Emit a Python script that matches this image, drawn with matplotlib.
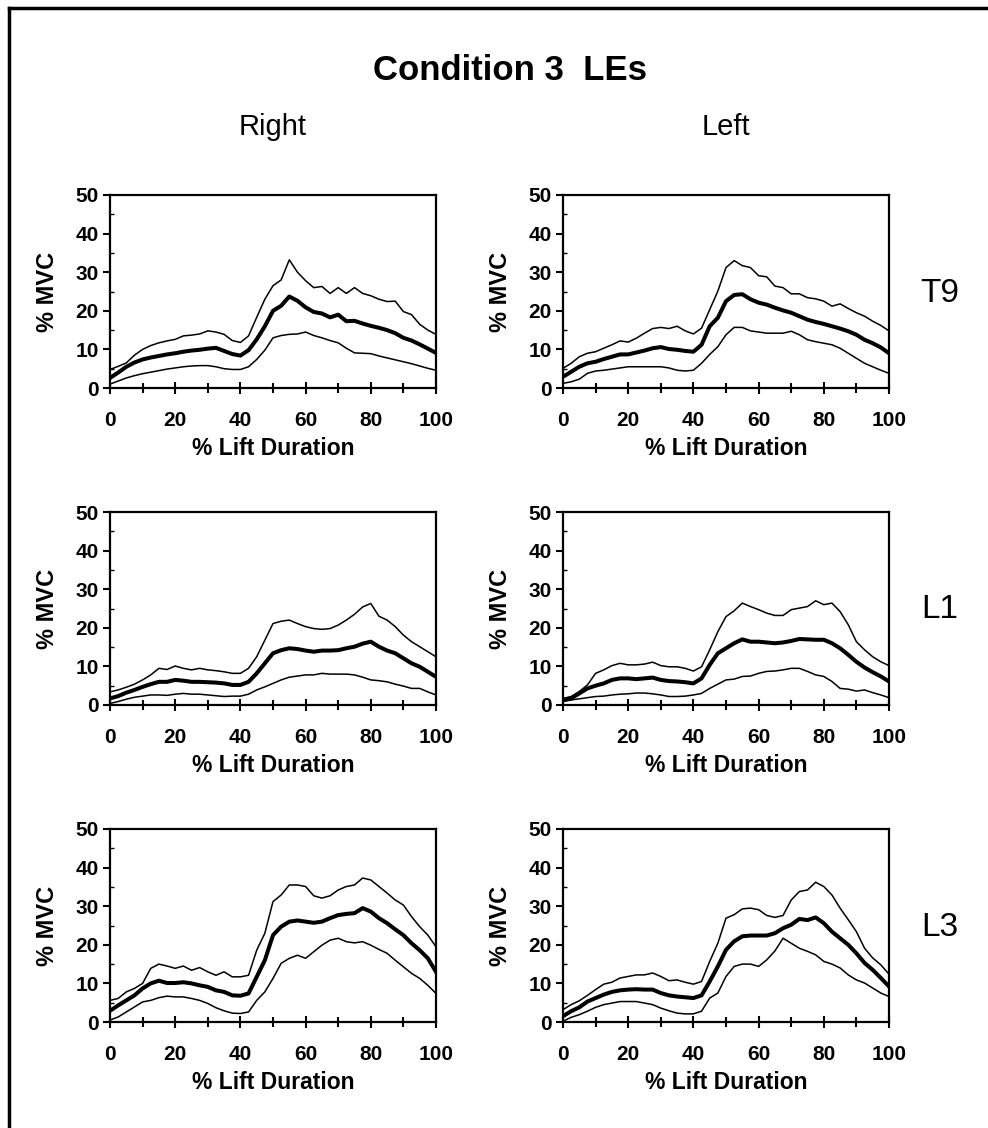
import matplotlib
matplotlib.use('Agg')
import matplotlib.pyplot as plt
from matplotlib.lines import Line2D
from matplotlib.ticker import MultipleLocator

plt.rcParams['font.family'] = ['Liberation Sans', 'DejaVu Sans']

# % lift duration sample points
lift = [0, 2.5, 5, 7.5, 10, 12.5, 15, 17.5, 20, 22.5, 25, 27.5, 30, 32.5, 35, 37.5,
        40, 42.5, 45, 47.5, 50, 52.5, 55, 57.5, 60, 62.5, 65, 67.5, 70, 72.5, 75, 77.5,
        80, 82.5, 85, 87.5, 90, 92.5, 95, 97.5, 100]

# Right T9
r_t9_hi = [4.8, 5.6, 6.5, 8.5, 10.0, 11.0, 11.7, 12.2, 12.6, 13.5, 13.7, 14.0, 14.8, 14.5, 13.9, 12.3,
           11.8, 13.5, 18.3, 23.0, 26.5, 28.0, 33.2, 30.0, 27.8, 26.0, 26.3, 24.5, 26.0, 24.5, 26.0, 24.5,
           23.9, 23.0, 22.4, 22.5, 19.8, 19.0, 16.5, 15.0, 13.9]
r_t9_mean = [2.6, 4.0, 5.5, 6.6, 7.4, 7.9, 8.3, 8.7, 9.0, 9.4, 9.7, 9.9, 10.2, 10.4, 9.6, 8.8,
             8.4, 9.8, 12.6, 16.0, 20.0, 21.3, 23.7, 22.6, 20.9, 19.7, 19.3, 18.3, 19.0, 17.3, 17.4, 16.7,
             16.1, 15.6, 15.0, 14.2, 13.0, 12.3, 11.3, 10.2, 9.1]
r_t9_lo = [1.0, 1.8, 2.6, 3.2, 3.7, 4.1, 4.5, 4.9, 5.2, 5.5, 5.7, 5.8, 5.8, 5.5, 5.0, 4.8,
           4.8, 5.5, 7.4, 9.8, 13.0, 13.6, 13.9, 14.0, 14.5, 13.6, 13.0, 12.3, 11.7, 10.3, 9.1, 9.0,
           8.9, 8.3, 7.8, 7.3, 6.8, 6.3, 5.7, 5.1, 4.6]

# Left T9
l_t9_hi = [5.1, 6.4, 8.1, 9.0, 9.4, 10.3, 11.2, 12.2, 11.9, 12.9, 14.2, 15.4, 15.7, 15.4, 16.0, 14.8,
           14.0, 15.5, 20.3, 25.1, 31.2, 33.0, 31.7, 31.2, 29.1, 28.8, 26.4, 26.0, 24.4, 24.4, 23.4, 23.1,
           22.5, 21.2, 21.8, 20.6, 19.5, 18.6, 17.3, 16.2, 14.8]
l_t9_mean = [2.9, 4.2, 5.5, 6.4, 6.8, 7.5, 8.1, 8.7, 8.7, 9.2, 9.7, 10.3, 10.6, 10.1, 9.9, 9.6,
             9.4, 11.2, 16.0, 18.2, 22.5, 24.1, 24.3, 23.0, 22.1, 21.6, 20.8, 20.1, 19.5, 18.6, 17.7, 17.1,
             16.6, 16.0, 15.4, 14.7, 13.8, 12.5, 11.6, 10.5, 9.0]
l_t9_lo = [1.2, 1.6, 2.3, 3.8, 4.4, 4.6, 4.9, 5.2, 5.5, 5.5, 5.5, 5.5, 5.5, 5.2, 4.6, 4.4,
           4.6, 6.4, 8.7, 10.7, 13.8, 15.7, 15.7, 14.8, 14.5, 14.2, 14.2, 14.2, 14.7, 13.8, 12.5, 12.0,
           11.6, 11.2, 10.3, 9.0, 7.7, 6.4, 5.5, 4.6, 3.8]

# Right L1
r_l1_hi = [3.4, 3.9, 4.6, 5.4, 6.5, 7.8, 9.5, 9.2, 10.1, 9.5, 9.1, 9.5, 9.1, 8.9, 8.6, 8.2,
           8.2, 9.5, 12.5, 16.8, 21.1, 21.7, 22.0, 21.1, 20.3, 19.8, 19.6, 19.8, 20.7, 22.0, 23.5, 25.4,
           26.3, 23.0, 22.0, 20.3, 18.1, 16.4, 15.1, 13.8, 12.5]
r_l1_mean = [1.7, 2.3, 3.2, 3.9, 4.7, 5.4, 6.0, 6.0, 6.5, 6.3, 6.0, 6.0, 5.9, 5.8, 5.6, 5.2,
             5.2, 6.0, 8.2, 10.8, 13.4, 14.2, 14.7, 14.5, 14.1, 13.8, 14.1, 14.1, 14.2, 14.7, 15.1, 15.9,
             16.4, 15.1, 14.1, 13.4, 12.1, 10.8, 9.9, 8.6, 7.3]
r_l1_lo = [0.4, 0.9, 1.5, 2.0, 2.3, 2.6, 2.6, 2.5, 2.8, 3.0, 2.8, 2.8, 2.6, 2.4, 2.2, 2.3,
           2.3, 2.8, 3.9, 4.7, 5.6, 6.5, 7.2, 7.5, 7.8, 7.8, 8.2, 8.0, 8.0, 8.0, 7.8, 7.2,
           6.5, 6.3, 6.0, 5.4, 4.9, 4.3, 4.3, 3.4, 2.6]

# Left L1
l_l1_hi = [1.7, 2.2, 3.5, 5.2, 8.2, 9.1, 10.2, 10.8, 10.4, 10.4, 10.6, 11.1, 10.2, 9.9, 9.9, 9.5,
           8.8, 9.9, 14.3, 19.0, 22.9, 24.4, 26.4, 25.5, 24.7, 23.8, 23.2, 23.2, 24.7, 25.1, 25.5, 27.0,
           26.0, 26.4, 24.2, 20.8, 16.4, 14.3, 12.5, 11.2, 10.2]
l_l1_mean = [1.3, 1.7, 3.0, 4.3, 5.0, 5.6, 6.5, 6.9, 6.9, 6.7, 6.9, 7.1, 6.5, 6.2, 6.1, 5.9,
             5.6, 6.9, 10.4, 13.4, 14.7, 16.0, 17.0, 16.4, 16.4, 16.2, 16.0, 16.2, 16.6, 17.1, 17.0, 16.9,
             16.9, 16.0, 14.7, 13.0, 11.2, 9.7, 8.5, 7.4, 6.1]
l_l1_lo = [0.9, 1.3, 1.6, 1.9, 2.2, 2.3, 2.6, 2.8, 2.9, 3.1, 3.1, 2.9, 2.6, 2.2, 2.2, 2.3,
           2.6, 3.0, 4.3, 5.4, 6.5, 6.7, 7.4, 7.5, 8.2, 8.7, 8.8, 9.1, 9.5, 9.5, 8.7, 7.8,
           7.4, 6.1, 4.3, 4.1, 3.6, 3.9, 3.2, 2.6, 1.9]

# Right L3
r_l3_hi = [5.6, 6.1, 7.8, 8.7, 10.0, 13.9, 15.0, 14.5, 13.9, 14.5, 13.4, 14.1, 13.0, 12.1, 13.0, 11.7,
           11.7, 12.1, 18.6, 23.0, 31.2, 32.9, 35.5, 35.5, 35.1, 32.7, 32.1, 32.7, 34.2, 35.1, 35.5, 37.3,
           36.8, 35.1, 33.4, 31.6, 30.3, 27.3, 24.7, 22.5, 19.5]
r_l3_mean = [2.9, 4.3, 5.6, 6.9, 8.7, 10.0, 10.7, 10.1, 10.1, 10.3, 10.0, 9.5, 9.1, 8.2, 7.8, 6.9,
             6.8, 7.4, 11.7, 16.0, 22.5, 24.7, 26.0, 26.3, 26.0, 25.7, 26.0, 26.9, 27.7, 28.0, 28.2, 29.5,
             28.6, 26.9, 25.6, 24.0, 22.5, 20.4, 18.6, 16.5, 13.0]
r_l3_lo = [0.5, 1.3, 2.6, 3.9, 5.2, 5.6, 6.3, 6.7, 6.5, 6.5, 6.1, 5.6, 4.8, 3.7, 2.9, 2.3,
           2.2, 2.6, 5.6, 7.8, 11.3, 15.2, 16.5, 17.3, 16.5, 18.2, 19.9, 21.2, 21.7, 20.8, 20.5, 20.8,
           19.9, 18.8, 17.8, 16.0, 14.3, 12.6, 11.3, 9.5, 7.4]

# Left L3
l_l3_hi = [3.2, 4.5, 5.5, 6.9, 8.4, 9.8, 10.3, 11.4, 11.8, 12.2, 12.2, 12.7, 11.8, 10.7, 10.9, 10.3,
           9.8, 10.5, 15.7, 20.4, 26.9, 27.8, 29.3, 29.5, 29.1, 27.6, 27.1, 27.6, 31.6, 33.8, 34.2, 36.2,
           35.1, 32.9, 29.5, 26.5, 23.4, 19.1, 16.6, 14.8, 12.4]
l_l3_mean = [1.5, 2.8, 3.8, 5.3, 6.2, 7.1, 7.8, 8.2, 8.4, 8.5, 8.4, 8.4, 7.5, 6.9, 6.6, 6.4,
             6.2, 6.9, 10.5, 14.4, 18.7, 20.9, 22.2, 22.4, 22.4, 22.4, 23.0, 24.3, 25.2, 26.7, 26.4, 27.1,
             25.6, 23.4, 21.7, 20.0, 17.8, 15.3, 13.5, 11.4, 9.2]
l_l3_lo = [0.2, 1.2, 1.9, 2.8, 3.8, 4.5, 4.9, 5.3, 5.3, 5.3, 4.9, 4.5, 3.6, 2.9, 2.3, 2.1,
           2.1, 2.8, 6.2, 7.5, 11.8, 14.4, 15.0, 15.0, 14.4, 16.1, 18.4, 21.7, 20.4, 19.1, 18.3, 17.4,
           15.7, 15.0, 14.0, 12.2, 10.9, 10.1, 8.8, 7.5, 6.6]

rows = ['T9', 'L1', 'L3']
sides = ['Right', 'Left']
panels = {
    ('T9', 'Right'): (r_t9_hi, r_t9_mean, r_t9_lo),
    ('T9', 'Left'): (l_t9_hi, l_t9_mean, l_t9_lo),
    ('L1', 'Right'): (r_l1_hi, r_l1_mean, r_l1_lo),
    ('L1', 'Left'): (l_l1_hi, l_l1_mean, l_l1_lo),
    ('L3', 'Right'): (r_l3_hi, r_l3_mean, r_l3_lo),
    ('L3', 'Left'): (l_l3_hi, l_l3_mean, l_l3_lo),
}

W, H = 988, 1128
fig = plt.figure(figsize=(W / 100, H / 100), dpi=100)

col_left = [110, 563]
col_w = 326
row_top = [195, 512, 829]
row_h = 193

for i, r in enumerate(rows):
    for j, s in enumerate(sides):
        ax = fig.add_axes([col_left[j] / W, 1 - (row_top[i] + row_h) / H, col_w / W, row_h / H])
        hi, mean, lo = panels[(r, s)]
        ax.plot(lift, hi, color='black', lw=1.1)
        ax.plot(lift, mean, color='black', lw=2.9)
        ax.plot(lift, lo, color='black', lw=1.1)
        ax.set_xlim(0, 100)
        ax.set_ylim(0, 50)
        ax.xaxis.set_major_locator(MultipleLocator(20))
        ax.xaxis.set_minor_locator(MultipleLocator(10))
        ax.yaxis.set_major_locator(MultipleLocator(10))
        ax.yaxis.set_minor_locator(MultipleLocator(5))
        ax.tick_params(axis='x', which='major', direction='inout', length=9, width=1.5,
                       labelsize=15, pad=12)
        ax.tick_params(axis='x', which='minor', direction='inout', length=7, width=1.5)
        ax.tick_params(axis='y', which='major', direction='out', length=5, width=1.5,
                       labelsize=15, pad=3)
        ax.tick_params(axis='y', which='minor', direction='in', length=3, width=1.0)
        for lab in ax.get_xticklabels() + ax.get_yticklabels():
            lab.set_fontweight('bold')
        for sp in ax.spines.values():
            sp.set_linewidth(1.6)
        ax.set_xlabel('% Lift Duration', fontsize=16.5, fontweight='bold', labelpad=5)
        ax.set_ylabel('% MVC', fontsize=17, fontweight='bold', labelpad=12)
        if j == 1:
            fig.text(940 / W, 1 - (row_top[i] + 98) / H, r, fontsize=24,
                     ha='center', va='center')

fig.text(510 / W, 1 - 70 / H, 'Condition 3  LEs', fontsize=25, fontweight='bold',
         ha='center', va='center')
for j, s in enumerate(sides):
    fig.text((col_left[j] + col_w / 2) / W, 1 - 127 / H, s, fontsize=21,
             ha='center', va='center')

# frame round the figure (top and left edges)
fig.add_artist(Line2D([9 / W, 1], [1 - 8 / H, 1 - 8 / H], color='black', lw=2.5,
                      transform=fig.transFigure))
fig.add_artist(Line2D([9 / W, 9 / W], [0, 1 - 8 / H], color='black', lw=2.5,
                      transform=fig.transFigure))

fig.savefig('out.png', dpi=100)
